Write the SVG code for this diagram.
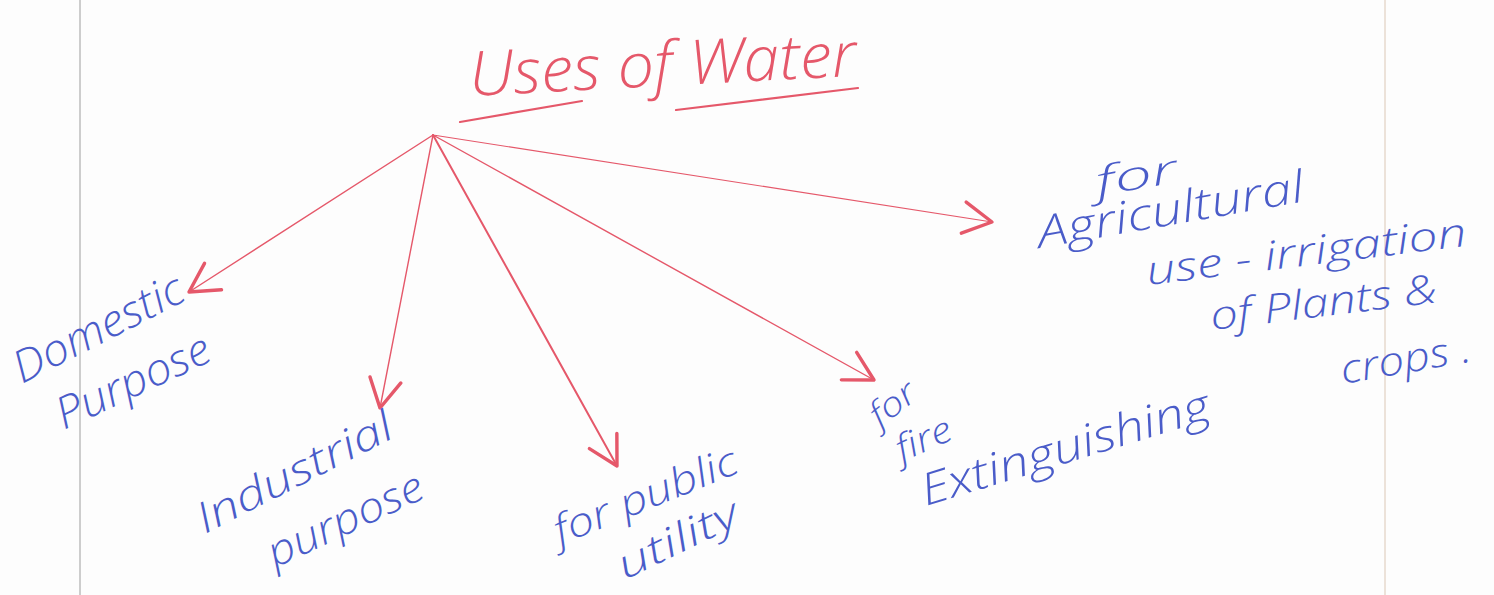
<svg xmlns="http://www.w3.org/2000/svg" width="1494" height="595" viewBox="0 0 1494 595">
  <style>
    .ink-red { stroke: #e5586a; fill: none; stroke-linecap: round; stroke-linejoin: round; }
    .hand { font-family: "Open Sans", "DejaVu Sans", sans-serif; font-style: italic; font-weight: 300; }
    .blue { fill: #4a5cc9; }
    .red { fill: #e5586a; }
  </style>
  <defs>
    <marker id="chev" markerUnits="userSpaceOnUse" markerWidth="40" markerHeight="40" refX="0" refY="0" viewBox="-24 -14 28 28" orient="auto">
      <path d="M -20 -11 L 0 0 L -20 11" fill="none" stroke="#e5586a" stroke-width="2.4" stroke-linecap="round" stroke-linejoin="round"/>
    </marker>
  </defs>

  <!-- paper -->
  <rect x="0" y="0" width="1494" height="595" fill="#fdfdfd"/>
  <line x1="80" y1="0" x2="80" y2="595" stroke="#bdbdbd" stroke-width="1.5"/>
  <line x1="1385" y1="0" x2="1385" y2="595" stroke="#e6d8cc" stroke-width="1.5"/>

  <!-- title -->
  <g id="title">
    <text class="hand red" x="470" y="96" font-size="62" textLength="388" lengthAdjust="spacingAndGlyphs" transform="rotate(-3 470 96)">Uses of Water</text>
    <path class="ink-red" stroke-width="2.2" d="M 460 122 L 582 101"/>
    <path class="ink-red" stroke-width="2.2" d="M 676 110 L 858 88"/>
  </g>

  <!-- connectors from the hub -->
  <g id="connectors" class="ink-red">
    <line x1="433" y1="135" x2="189" y2="292" stroke-width="1.4" marker-end="url(#chev)"/>
    <line x1="433" y1="135" x2="380" y2="408" stroke-width="1.4" marker-end="url(#chev)"/>
    <line x1="433" y1="135" x2="617" y2="466" stroke-width="2" marker-end="url(#chev)"/>
    <line x1="433" y1="135" x2="874" y2="380" stroke-width="1.4" marker-end="url(#chev)"/>
    <line x1="433" y1="135" x2="992" y2="222" stroke-width="1.2" marker-end="url(#chev)"/>
  </g>

  <!-- branch labels -->
  <g id="domestic" class="hand blue">
    <text font-size="44" textLength="186" lengthAdjust="spacingAndGlyphs" transform="translate(22 384) rotate(-27)">Domestic</text>
    <text font-size="44" textLength="166" lengthAdjust="spacingAndGlyphs" transform="translate(64 430) rotate(-25)">Purpose</text>
  </g>

  <g id="industrial" class="hand blue">
    <text font-size="42" textLength="215" lengthAdjust="spacingAndGlyphs" transform="translate(205 534) rotate(-27)">Industrial</text>
    <text font-size="42" textLength="168" lengthAdjust="spacingAndGlyphs" transform="translate(275 568) rotate(-25)">purpose</text>
  </g>

  <g id="public-utility" class="hand blue">
    <text font-size="40" textLength="195" lengthAdjust="spacingAndGlyphs" transform="translate(560 545) rotate(-22)">for public</text>
    <text font-size="40" textLength="130" lengthAdjust="spacingAndGlyphs" transform="translate(625 580) rotate(-26)">utility</text>
  </g>

  <g id="fire" class="hand blue">
    <text font-size="34" textLength="50" lengthAdjust="spacingAndGlyphs" transform="translate(880 428) rotate(-38)">for</text>
    <text font-size="36" textLength="58" lengthAdjust="spacingAndGlyphs" transform="translate(902 462) rotate(-24)">fire</text>
    <text font-size="44" textLength="300" lengthAdjust="spacingAndGlyphs" transform="translate(926 506) rotate(-17)">Extinguishing</text>
  </g>

  <g id="agricultural" class="hand blue">
    <text font-size="40" textLength="82" lengthAdjust="spacingAndGlyphs" transform="translate(1098 196) rotate(-10)">for</text>
    <text font-size="44" textLength="270" lengthAdjust="spacingAndGlyphs" transform="translate(1040 248) rotate(-10)">Agricultural</text>
    <text font-size="40" textLength="322" lengthAdjust="spacingAndGlyphs" transform="translate(1148 285) rotate(-7)">use - irrigation</text>
    <text font-size="40" textLength="228" lengthAdjust="spacingAndGlyphs" transform="translate(1212 330) rotate(-7)">of Plants &amp;</text>
    <text font-size="40" textLength="132" lengthAdjust="spacingAndGlyphs" transform="translate(1343 384) rotate(-10)">crops .</text>
  </g>
</svg>
